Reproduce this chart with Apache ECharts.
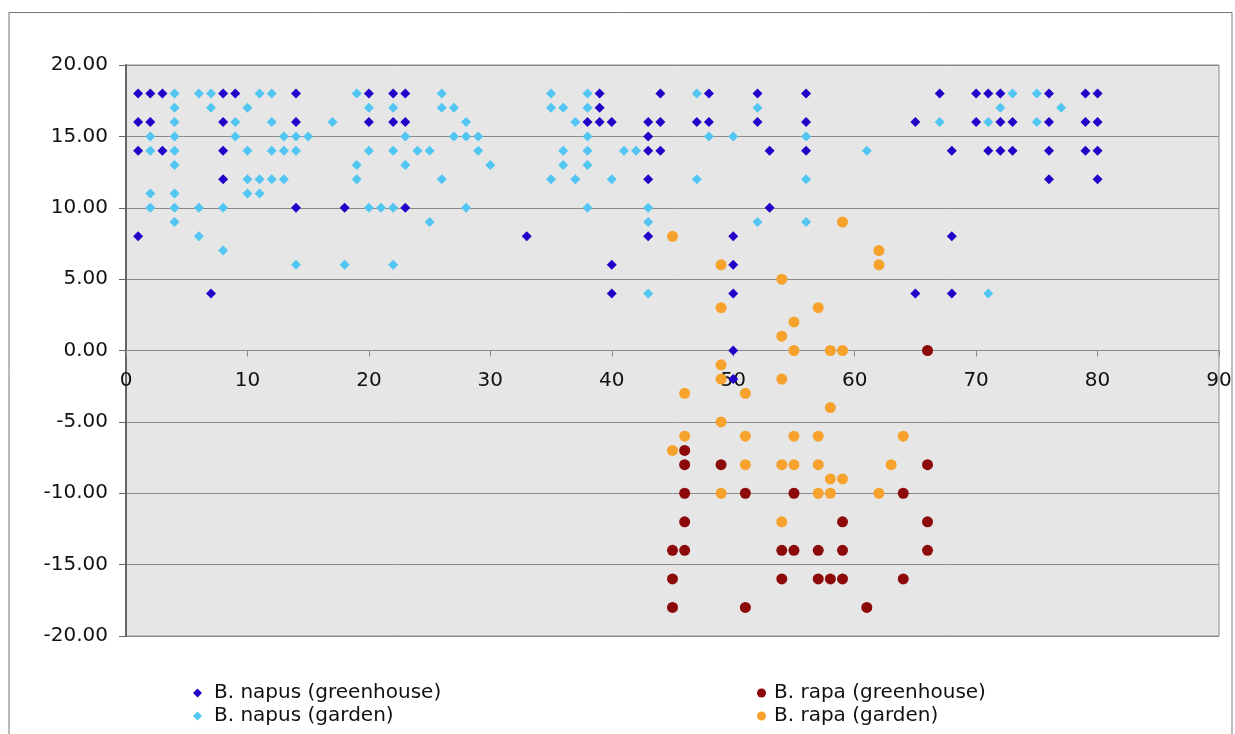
<!DOCTYPE html>
<html>
<head>
<meta charset="utf-8">
<script src="https://cdn.jsdelivr.net/npm/echarts@6/dist/echarts.min.js"></script>
<style>
  html, body { margin: 0; padding: 0; background: #ffffff; }
  #chart { width: 1235px; height: 734px; }
</style>
</head>
<body>
<div id="chart"></div>
<script>
// Series names shown in the legend
const seriesNames = [
  'B. napus (greenhouse)',
  'B. napus (garden)',
  'B. rapa (greenhouse)',
  'B. rapa (garden)'
];

// [x, y] observations per group
const napusGreenhouse = [
  [1,18],[2,18],[3,18],[8,18],[9,18],[14,18],[20,18],[22,18],[23,18],[39,18],
  [44,18],[48,18],[52,18],[56,18],[67,18],[70,18],[71,18],[72,18],[76,18],[79,18],[80,18],
  [39,17],
  [1,16],[2,16],[8,16],[14,16],[20,16],[22,16],[23,16],[38,16],[39,16],[40,16],
  [43,16],[44,16],[47,16],[48,16],[52,16],[56,16],[65,16],[70,16],[72,16],[73,16],[76,16],[79,16],[80,16],
  [43,15],
  [1,14],[3,14],[8,14],[43,14],[44,14],[53,14],[56,14],[68,14],[71,14],[72,14],[73,14],[76,14],[79,14],[80,14],
  [8,12],[43,12],[76,12],[80,12],
  [14,10],[18,10],[23,10],[53,10],
  [1,8],[33,8],[43,8],[50,8],[68,8],
  [40,6],[50,6],
  [7,4],[40,4],[50,4],[65,4],[68,4],
  [50,0],[50,-2]
];

const napusGarden = [
  [4,18],[6,18],[7,18],[11,18],[12,18],[19,18],[26,18],[35,18],[38,18],[47,18],[73,18],[75,18],
  [4,17],[7,17],[10,17],[20,17],[22,17],[26,17],[27,17],[35,17],[36,17],[38,17],[52,17],[72,17],[77,17],
  [4,16],[9,16],[12,16],[17,16],[28,16],[37,16],[67,16],[71,16],[75,16],
  [2,15],[4,15],[9,15],[13,15],[14,15],[15,15],[23,15],[27,15],[28,15],[29,15],[38,15],[48,15],[50,15],[56,15],
  [2,14],[4,14],[10,14],[12,14],[13,14],[14,14],[20,14],[22,14],[24,14],[25,14],[29,14],[36,14],[38,14],
  [41,14],[42,14],[61,14],
  [4,13],[19,13],[23,13],[30,13],[36,13],[38,13],
  [10,12],[11,12],[12,12],[13,12],[19,12],[26,12],[35,12],[37,12],[40,12],[47,12],[56,12],
  [2,11],[4,11],[10,11],[11,11],
  [2,10],[4,10],[6,10],[8,10],[20,10],[21,10],[22,10],[28,10],[38,10],[43,10],
  [4,9],[25,9],[43,9],[52,9],[56,9],
  [6,8],
  [8,7],
  [14,6],[18,6],[22,6],
  [43,4],[71,4]
];

const rapaGreenhouse = [
  [66,0],
  [46,-7],
  [46,-8],[49,-8],[66,-8],
  [46,-10],[51,-10],[55,-10],[64,-10],
  [46,-12],[59,-12],[66,-12],
  [45,-14],[46,-14],[54,-14],[55,-14],[57,-14],[59,-14],[66,-14],
  [45,-16],[54,-16],[57,-16],[58,-16],[59,-16],[64,-16],
  [45,-18],[51,-18],[61,-18]
];

const rapaGarden = [
  [59,9],[45,8],[62,7],[62,6],[49,6],[54,5],[49,3],[57,3],[55,2],[54,1],
  [55,0],[58,0],[59,0],
  [49,-1],[49,-2],[54,-2],[46,-3],[51,-3],[58,-4],[49,-5],
  [46,-6],[51,-6],[55,-6],[57,-6],[64,-6],
  [45,-7],
  [51,-8],[54,-8],[55,-8],[57,-8],[63,-8],
  [58,-9],[59,-9],
  [49,-10],[57,-10],[58,-10],[62,-10],
  [54,-12]
];

// Axis tick settings
const xTicks = { min: 0, max: 90, step: 10 };
const yTicks = { min: -20, max: 20, step: 5 };

const colors = ['#2400c8', '#52c6f2', '#8c0a0a', '#f6a22c'];
const symbols = ['diamond', 'diamond', 'circle', 'circle'];
const sizes = [10, 10, 11, 11];
const groups = [napusGreenhouse, napusGarden, rapaGreenhouse, rapaGarden];

const font = 'DejaVu Sans, Verdana, sans-serif';
const chart = echarts.init(document.getElementById('chart'), null, { renderer: 'canvas' });

const gridBox = { left: 126, right: 16, top: 65, bottom: 98 };
const plotHeight = 734 - gridBox.top - gridBox.bottom;
// shift the x axis up from the plot bottom to the y = 0 line
const zeroOffset = -plotHeight * (0 - yTicks.min) / (yTicks.max - yTicks.min);

function legendColumn(left, names, icon, pad) {
  return {
    orient: 'vertical',
    left: left, top: 678,
    itemWidth: 9,
    itemHeight: 9,
    itemGap: 3,
    selectedMode: false,
    textStyle: { fontFamily: font, fontSize: 20, color: '#111', padding: [0, 0, 0, pad] },
    data: names.map(n => ({ name: n, icon: icon }))
  };
}

chart.setOption({
  animation: false,
  backgroundColor: '#ffffff',
  color: colors,
  graphic: [{
    type: 'rect',
    shape: { x: 9, y: 12.5, width: 1223, height: 760 },
    style: { fill: 'none', stroke: '#777', lineWidth: 1 },
    silent: true,
    z: -1
  }],
  grid: Object.assign({
    show: true,
    backgroundColor: '#e6e6e6',
    borderColor: '#8a8a8a',
    borderWidth: 1
  }, gridBox),
  legend: [
    legendColumn(188, seriesNames.slice(0, 2), 'diamond', 7),
    legendColumn(752, seriesNames.slice(2, 4), 'circle', 3)
  ],
  xAxis: {
    type: 'value',
    position: 'bottom',
    offset: zeroOffset,
    min: xTicks.min, max: xTicks.max, interval: xTicks.step,
    axisLine: { show: true, onZero: false, lineStyle: { color: '#8a8a8a', width: 1 } },
    axisTick: { show: true, length: 6, lineStyle: { color: '#8a8a8a' } },
    axisLabel: { fontFamily: font, fontSize: 20, color: '#111', margin: 20 },
    splitLine: { show: false }
  },
  yAxis: {
    type: 'value',
    min: yTicks.min, max: yTicks.max, interval: yTicks.step,
    axisLine: { show: true, lineStyle: { color: '#666', width: 2 } },
    axisTick: { show: true, length: 7, lineStyle: { color: '#666' } },
    axisLabel: {
      fontFamily: font, fontSize: 20, color: '#111', margin: 18,
      formatter: v => v.toFixed(2)
    },
    splitLine: { show: true, lineStyle: { color: '#8a8a8a', width: 1 } }
  },
  series: groups.map((d, i) => ({
    name: seriesNames[i],
    type: 'scatter',
    data: d,
    symbol: symbols[i],
    symbolSize: sizes[i],
    itemStyle: { color: colors[i], opacity: 1 },
    z: 3 + i
  }))
});
</script>
</body>
</html>
